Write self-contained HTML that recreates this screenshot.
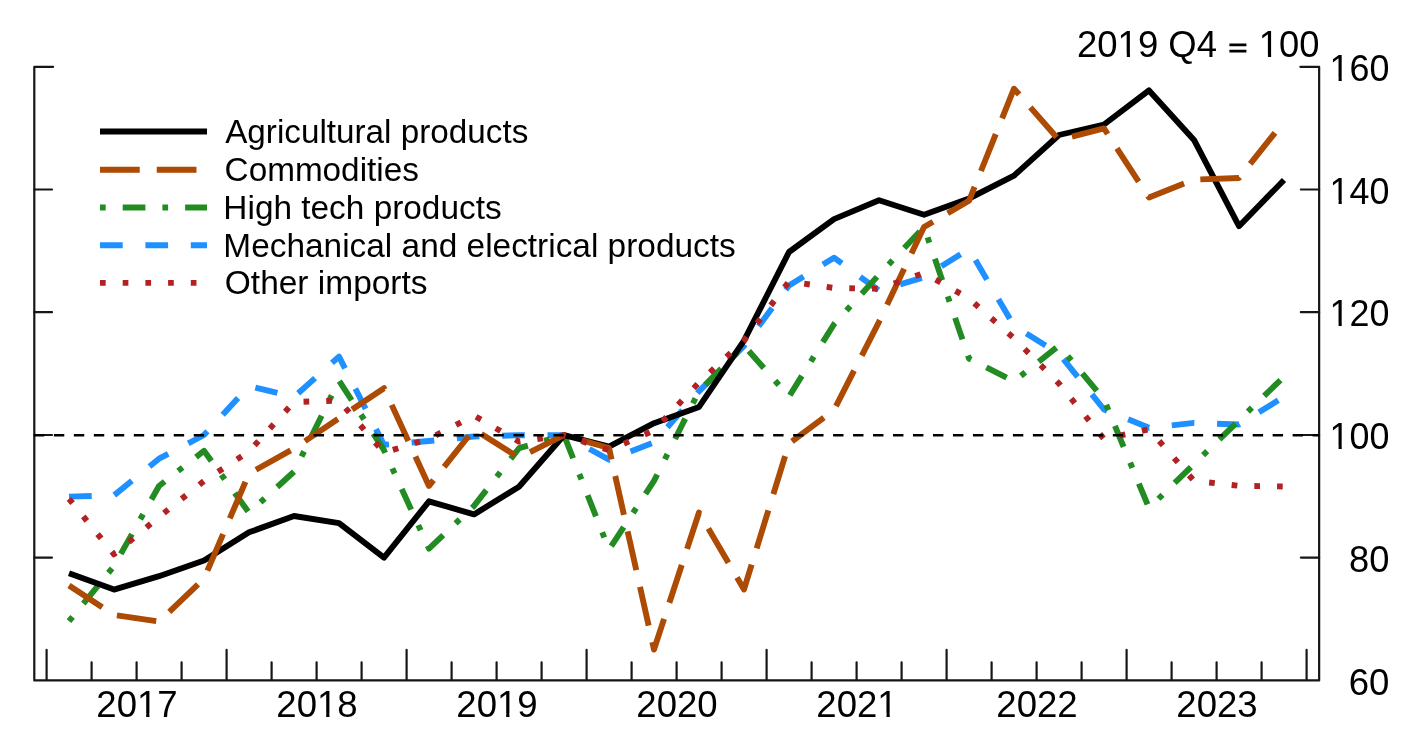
<!DOCTYPE html>
<html><head><meta charset="utf-8"><title>chart</title>
<style>
html,body{margin:0;padding:0;background:#fff;}
body{width:1410px;height:736px;overflow:hidden;}
svg{display:block;will-change:transform;}
text{font-family:"Liberation Sans",sans-serif;fill:#000;font-kerning:none;}
</style></head><body>
<svg width="1410" height="736" viewBox="0 0 1410 736">
<rect width="1410" height="736" fill="#fff"/>
<g stroke="#161616" stroke-width="2.2" fill="none" stroke-linecap="round" stroke-linejoin="round">
<path d="M53.10,66.8 H34.3 V680.45 H1319.15 V66.8 H1300.35"/>
<path d="M34.3,189.5 h17.7 M1319.15,189.5 h-18.3"/>
<path d="M34.3,312.2 h17.7 M1319.15,312.2 h-18.3"/>
<path d="M34.3,435.0 h17.7 M1319.15,435.0 h-18.3"/>
<path d="M34.3,557.6 h17.7 M1319.15,557.6 h-18.3"/>
<path d="M46.6,679.95 v-30.0"/>
<path d="M91.6,679.95 v-17.5"/>
<path d="M136.6,679.95 v-17.5"/>
<path d="M181.6,679.95 v-17.5"/>
<path d="M226.6,679.95 v-30.0"/>
<path d="M271.6,679.95 v-17.5"/>
<path d="M316.6,679.95 v-17.5"/>
<path d="M361.6,679.95 v-17.5"/>
<path d="M406.6,679.95 v-30.0"/>
<path d="M451.6,679.95 v-17.5"/>
<path d="M496.6,679.95 v-17.5"/>
<path d="M541.6,679.95 v-17.5"/>
<path d="M586.6,679.95 v-30.0"/>
<path d="M631.6,679.95 v-17.5"/>
<path d="M676.6,679.95 v-17.5"/>
<path d="M721.6,679.95 v-17.5"/>
<path d="M766.6,679.95 v-30.0"/>
<path d="M811.6,679.95 v-17.5"/>
<path d="M856.6,679.95 v-17.5"/>
<path d="M901.6,679.95 v-17.5"/>
<path d="M946.6,679.95 v-30.0"/>
<path d="M991.6,679.95 v-17.5"/>
<path d="M1036.6,679.95 v-17.5"/>
<path d="M1081.6,679.95 v-17.5"/>
<path d="M1126.6,679.95 v-30.0"/>
<path d="M1171.6,679.95 v-17.5"/>
<path d="M1216.6,679.95 v-17.5"/>
<path d="M1261.6,679.95 v-17.5"/>
<path d="M1306.6,679.95 v-30.0"/>
</g>
<polyline points="69.0,496.6 114.0,495.4 159.0,458.7 204.0,435.0 249.0,386.0 294.0,397.0 339.0,356.6 384.0,444.8 429.0,441.0 474.0,436.5 519.0,435.2 564.0,435.2 609.0,459.7 654.0,442.4 699.0,391.3 744.0,346.0 789.0,285.4 834.0,257.7 879.0,290.6 924.0,277.2 969.0,249.0 1014.0,325.9 1059.0,353.6 1104.0,409.5 1149.0,427.8 1194.0,422.9 1239.0,424.5 1284.0,396.8" fill="none" stroke="#1E90FF" stroke-width="5.9" stroke-linejoin="round" stroke-linecap="butt" stroke-dasharray="22.700,22.700"/>
<polyline points="69.0,621.2 114.0,566.0 159.0,486.0 204.0,450.8 249.0,512.7 294.0,471.7 339.0,380.7 384.0,450.2 429.0,548.6 474.0,505.9 519.0,448.2 564.0,435.2 609.0,549.5 654.0,480.9 699.0,391.3 744.0,345.5 789.0,396.6 834.0,324.2 879.0,274.7 924.0,227.0 969.0,358.5 1014.0,381.3 1059.0,345.5 1104.0,399.5 1149.0,508.0 1194.0,464.0 1239.0,420.3 1284.0,376.6" fill="none" stroke="#228B22" stroke-width="5.9" stroke-linejoin="round" stroke-linecap="butt" stroke-dasharray="5.675,17.025,22.700,17.025"/>
<polyline points="69.0,573.3 114.0,589.6 159.0,576.2 204.0,560.5 249.0,532.3 294.0,516.0 339.0,523.2 384.0,557.7 429.0,501.3 474.0,514.4 519.0,486.7 564.0,435.2 609.0,446.7 654.0,423.2 699.0,406.9 744.0,340.7 789.0,252.0 834.0,219.1 879.0,200.2 924.0,214.8 969.0,198.5 1014.0,175.7 1059.0,135.0 1104.0,124.5 1149.0,90.4 1194.0,139.9 1239.0,226.2 1284.0,180.0" fill="none" stroke="#000" stroke-width="5.9" stroke-linejoin="round" stroke-linecap="butt"/>
<polyline points="69.0,585.5 114.0,615.0 159.0,621.6 204.0,578.6 249.0,473.6 294.0,448.5 339.0,418.2 384.0,388.2 429.0,485.9 474.0,429.3 519.0,457.7 564.0,435.2 609.0,448.0 654.0,649.5 699.0,512.5 744.0,589.4 789.0,443.5 834.0,410.0 879.0,321.8 924.0,227.0 969.0,200.8 1014.0,88.7 1059.0,139.9 1104.0,128.4 1149.0,197.5 1194.0,179.6 1239.0,178.0 1284.0,121.5" fill="none" stroke="#AD4A03" stroke-width="5.9" stroke-linejoin="round" stroke-linecap="butt" stroke-dasharray="39.725,17.025"/>
<polyline points="69.0,498.8 114.0,554.3 159.0,517.0 204.0,481.0 249.0,451.5 294.0,402.0 339.0,400.6 384.0,452.6 429.0,438.8 474.0,415.6 519.0,441.7 564.0,435.2 609.0,450.3 654.0,430.4 699.0,382.5 744.0,340.4 789.0,281.5 834.0,288.0 879.0,288.7 924.0,273.0 969.0,298.5 1014.0,338.3 1059.0,383.6 1104.0,439.0 1149.0,429.4 1194.0,480.9 1239.0,485.8 1284.0,486.5" fill="none" stroke="#B22222" stroke-width="5.9" stroke-linejoin="round" stroke-linecap="butt" stroke-dasharray="5.675,17.025"/>
<path d="M33.9,435.2 H1319.15" stroke="#000" stroke-width="2.4" stroke-dasharray="10.4,9.58" fill="none"/>
<path d="M100,131.5 H207" fill="none" stroke="#000" stroke-width="5.9"/>
<text transform="translate(225.14,143.10) scale(0.9757,1)" font-size="34.1">Agricultural products</text>
<path d="M100,169.7 H207" fill="none" stroke="#AD4A03" stroke-width="5.9" stroke-dasharray="39.725,17.025"/>
<text transform="translate(224.61,181.00) scale(0.9765,1)" font-size="34.1">Commodities</text>
<path d="M100,207.5 H207" fill="none" stroke="#228B22" stroke-width="5.9" stroke-dasharray="5.675,17.025,22.700,17.025"/>
<text transform="translate(223.36,218.80) scale(0.9790,1)" font-size="34.1">High tech products</text>
<path d="M100,245.2 H207" fill="none" stroke="#1E90FF" stroke-width="5.9" stroke-dasharray="22.700,22.700"/>
<text transform="translate(223.36,256.60) scale(0.9794,1)" font-size="34.1">Mechanical and electrical products</text>
<path d="M100,282.9 H207" fill="none" stroke="#B22222" stroke-width="5.9" stroke-dasharray="5.675,17.025"/>
<text transform="translate(224.81,294.30) scale(0.9818,1)" font-size="34.1">Other imports</text>
<text transform="translate(96.36,716.60) scale(0.9743,1)" font-size="37.5">2017</text>
<path d="M138.96,713.21 H146.19 v4.89 H138.96 Z M149.42,713.21 H156.45 v4.89 H149.42 Z" fill="#fff"/>
<text transform="translate(276.36,716.60) scale(0.9743,1)" font-size="37.5">2018</text>
<path d="M318.96,713.21 H326.19 v4.89 H318.96 Z M329.42,713.21 H336.45 v4.89 H329.42 Z" fill="#fff"/>
<text transform="translate(456.36,716.60) scale(0.9743,1)" font-size="37.5">2019</text>
<path d="M498.96,713.21 H506.19 v4.89 H498.96 Z M509.42,713.21 H516.45 v4.89 H509.42 Z" fill="#fff"/>
<text transform="translate(636.36,716.60) scale(0.9743,1)" font-size="37.5">2020</text>
<text transform="translate(816.36,716.60) scale(0.9743,1)" font-size="37.5">2021</text>
<path d="M879.28,713.21 H886.51 v4.89 H879.28 Z M889.74,713.21 H896.76 v4.89 H889.74 Z" fill="#fff"/>
<text transform="translate(996.36,716.60) scale(0.9743,1)" font-size="37.5">2022</text>
<text transform="translate(1176.36,716.60) scale(0.9743,1)" font-size="37.5">2023</text>
<text transform="translate(1329.55,80.90) scale(0.9566,1)" font-size="37.5">160</text>
<path d="M1331.48,77.51 H1338.57 v4.89 H1331.48 Z M1341.74,77.51 H1348.64 v4.89 H1341.74 Z" fill="#fff"/>
<text transform="translate(1329.55,203.60) scale(0.9566,1)" font-size="37.5">140</text>
<path d="M1331.48,200.21 H1338.57 v4.89 H1331.48 Z M1341.74,200.21 H1348.64 v4.89 H1341.74 Z" fill="#fff"/>
<text transform="translate(1329.55,326.30) scale(0.9566,1)" font-size="37.5">120</text>
<path d="M1331.48,322.91 H1338.57 v4.89 H1331.48 Z M1341.74,322.91 H1348.64 v4.89 H1341.74 Z" fill="#fff"/>
<text transform="translate(1329.55,449.10) scale(0.9566,1)" font-size="37.5">100</text>
<path d="M1331.48,445.71 H1338.57 v4.89 H1331.48 Z M1341.74,445.71 H1348.64 v4.89 H1341.74 Z" fill="#fff"/>
<text transform="translate(1349.02,571.70) scale(0.9685,1)" font-size="37.5">80</text>
<text transform="translate(1348.74,694.55) scale(0.9754,1)" font-size="37.5">60</text>
<text transform="translate(1077.07,57.20) scale(0.9724,1)" font-size="37.5">2019 Q4</text>
<path d="M1119.59,53.81 H1126.80 v4.89 H1119.59 Z M1130.02,53.81 H1137.04 v4.89 H1130.02 Z" fill="#fff"/>
<text transform="translate(1258.81,57.20) scale(0.9688,1)" font-size="37.5">100</text>
<path d="M1260.76,53.81 H1267.94 v4.89 H1260.76 Z M1271.15,53.81 H1278.14 v4.89 H1271.15 Z" fill="#fff"/>
<path d="M1229.4,44.8 H1246.4 M1229.4,51.2 H1246.4" stroke="#000" stroke-width="2.7" fill="none"/>
</svg>
</body></html>
